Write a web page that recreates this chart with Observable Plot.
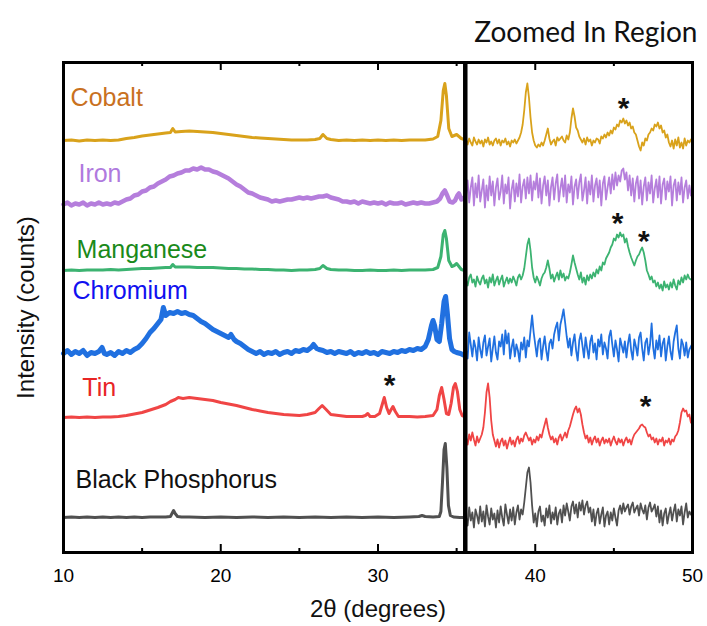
<!DOCTYPE html>
<html><head><meta charset="utf-8">
<script src="https://cdn.jsdelivr.net/npm/d3@7"></script>
<script src="https://cdn.jsdelivr.net/npm/@observablehq/plot@0.6"></script>
<style>body{margin:0;background:#fff;}</style>
</head><body><div id="chart"></div>
<script>
// ---- categories ----
const samples = ["Cobalt","Iron","Manganese","Chromium","Tin","Black Phosphorus"];
const lineColors = ["#D9A21B","#B57EDC","#3CB371","#2070E0","#F04545","#505050"];
const labelColors = ["#C9711F","#B07ADE","#1A8A1A","#1010F0","#E82525","#111111"];
const fullWidths = [3,4.5,3,5,3,3];
// vertical stacking offsets (a.u.)
const fullOffsets = [412,348,282,199,135,35];
const zoomOffsets = [410,347,270,200,110,35];
// label anchor: [2θ, lift above trace baseline]
const labelPos = [[10.45,43],[10.95,31],[10.83,21],[10.57,63],[11.2,30],[10.76,38]];
// asterisks: [2θ, intensity a.u.]
const asterisks = [[30.74,175],[45.62,452],[45.24,337],[46.9,319],[47.02,154]];
const xTickLabels = [10,20,30,40,50];
const majorTicks = [20,30,40];
const minorTicks = [15,25,35,45];
const panelSplit = 35.55;

// ---- full-range patterns (2θ, intensity above baseline) ----
const cobaltFull = [[10,0],[10.5,0.5],[11,-0.5],[11.5,0.5],[12,0],[12.5,0.5],[13,0],[13.5,0.5],[14,2],[14.5,3],[15,4.5],[15.5,5.5],[16,6.5],[16.5,7.5],[16.8,8],[16.95,12],[17.1,8.5],[17.5,9],[18,9.5],[18.5,9],[19,8.5],[19.5,8],[20,7],[20.5,6],[21,5],[21.5,4],[22,3],[22.5,2.5],[23,2],[23.5,1.5],[24,1],[24.5,0.5],[25,0.5],[25.5,0.5],[26,1],[26.3,2],[26.5,6],[26.75,2],[27,1],[27.5,0],[28,0.5],[28.5,0],[29,0.5],[29.5,0],[30,0.5],[30.5,0],[31,0.5],[31.5,0],[32,0.5],[32.5,0.5],[33,0.5],[33.5,1.5],[33.8,4],[34.0,20],[34.15,50],[34.25,57],[34.35,45],[34.5,12],[34.7,4],[34.85,5],[35.0,6],[35.15,4],[35.3,2],[35.5,1]];
const ironFull = [[10,0],[10.25,2],[10.5,-1],[10.75,1],[11,0],[11.25,2],[11.5,-1],[11.75,1],[12,0],[12.25,2],[12.5,0],[12.75,1],[13,0],[13.25,2],[13.5,1],[13.75,3],[14,5],[14.25,6],[14.5,9],[14.75,10],[15,13],[15.25,14],[15.5,17],[15.75,18],[16,21],[16.25,23],[16.5,25],[16.75,28],[17,29],[17.25,31],[17.5,32],[17.75,34],[18,34],[18.25,36],[18.5,35],[18.75,37],[19,35],[19.25,35],[19.5,33],[19.75,32],[20,30],[20.25,28],[20.5,26],[20.75,23],[21,20],[21.25,18],[21.5,15],[21.75,12],[22,11],[22.25,9],[22.5,7],[22.75,6],[23,5],[23.25,3],[23.5,4],[23.75,3],[24,4],[24.25,5],[24.5,5],[24.75,6],[25,7],[25.25,6],[25.5,7],[25.75,6],[26,7],[26.25,8],[26.5,8],[26.75,9],[27,7],[27.25,6],[27.5,5],[27.75,3],[28,3],[28.25,2],[28.5,3],[28.75,1],[29,3],[29.25,2],[29.5,1],[29.75,2],[30,1],[30.25,2],[30.5,0],[30.75,2],[31,1],[31.25,1],[31.5,2],[31.75,0],[32,1],[32.25,2],[32.5,1],[32.75,2],[33,1],[33.25,1],[33.5,2],[33.75,3],[33.95,6],[34.1,11],[34.25,14],[34.4,9],[34.55,3],[34.75,2],[34.9,4],[35.05,9],[35.15,11],[35.3,5],[35.5,7]];
const manganeseFull = [[10,0],[10.5,0.5],[11,0],[11.5,0.5],[12,0.5],[12.5,0.5],[13,1],[13.5,0.5],[14,1],[14.5,1.5],[15,2],[15.5,2],[16,2.5],[16.5,3],[16.8,3],[16.95,6],[17.1,3.5],[17.5,3.5],[18,3.5],[18.5,3],[19,3],[19.5,3],[20,2.5],[20.5,2],[21,2],[21.5,1.5],[22,1.5],[22.5,1],[23,1],[23.5,0.5],[24,0.5],[24.5,0],[25,0.5],[25.5,0.5],[26,1],[26.3,2],[26.5,5],[26.75,2],[27,1],[27.5,0.5],[28,0.5],[28.5,0],[29,0],[29.5,0.5],[30,0],[30.5,0],[31,0.5],[31.5,0],[32,0.5],[32.5,0.5],[33,0.5],[33.5,1],[33.8,3],[34.0,14],[34.15,36],[34.25,40],[34.35,32],[34.5,10],[34.7,4],[34.85,5],[35.0,7],[35.15,4],[35.3,1],[35.5,0]];
const chromiumFull = [[10,0],[10.25,3],[10.5,-1],[10.75,2],[11,0],[11.25,3],[11.5,-2],[11.75,1],[12,0],[12.25,2],[12.45,6],[12.6,0],[12.75,-1],[13,1],[13.25,-2],[13.5,2],[13.75,0],[14,3],[14.25,1],[14.5,4],[14.75,6],[15,10],[15.25,15],[15.5,21],[15.75,25],[16,30],[16.2,34],[16.35,46],[16.5,38],[16.75,41],[17,40],[17.25,42],[17.5,40],[17.75,41],[18,39],[18.25,38],[18.5,35],[18.75,32],[19,30],[19.25,27],[19.5,24],[19.75,22],[20,20],[20.25,18],[20.5,16],[20.65,19],[20.85,14],[21,12],[21.25,10],[21.5,7],[21.75,4],[22,2],[22.25,0],[22.5,2],[22.75,-1],[23,1],[23.25,0],[23.5,2],[23.75,-1],[24,1],[24.25,2],[24.5,0],[24.75,3],[25,2],[25.25,4],[25.5,3],[25.75,6],[25.9,9],[26.1,5],[26.25,4],[26.5,3],[26.75,1],[27,2],[27.25,0],[27.5,2],[27.75,1],[28,0],[28.25,2],[28.5,-1],[28.75,1],[29,0],[29.25,2],[29.5,0],[29.75,1],[30,-1],[30.25,2],[30.5,1],[30.75,0],[31,2],[31.25,1],[31.5,3],[31.75,2],[32,4],[32.25,3],[32.5,5],[32.75,4],[33,7],[33.2,14],[33.4,28],[33.5,33],[33.6,28],[33.75,14],[33.9,12],[34.05,30],[34.2,52],[34.3,57],[34.4,42],[34.55,15],[34.7,4],[34.85,2],[35,1],[35.25,0],[35.5,-2]];
const tinFull = [[10,0],[10.5,0.5],[11,0],[11.5,0.5],[12,0],[12.5,0.5],[13,0.5],[13.5,1],[14,2],[14.5,3.5],[15,5],[15.5,7.5],[16,10],[16.5,13],[16.8,16],[17.1,18],[17.3,20],[17.6,19],[18,20],[18.5,19],[19,18],[19.5,17],[20,15],[20.5,13.5],[21,12],[21.5,10],[22,8],[22.5,6.5],[23,5],[23.5,4],[24,3],[24.5,2.5],[25,2],[25.5,3],[26,5],[26.25,9],[26.45,12],[26.7,8],[27,3],[27.5,2],[28,1],[28.5,1],[29,1],[29.2,2],[29.35,4],[29.5,1],[29.8,1],[30.1,4],[30.25,12],[30.4,20],[30.55,10],[30.7,4],[30.8,7],[30.95,11],[31.1,6],[31.3,1],[31.7,1],[32,1],[32.5,0.5],[33,1],[33.5,2],[33.75,8],[33.9,22],[34.05,30],[34.2,18],[34.35,4],[34.5,3],[34.65,14],[34.8,30],[34.92,34],[35.05,26],[35.2,8],[35.35,2],[35.5,1]];
const phosphorusFull = [[10,0],[10.5,0.5],[11,0],[11.5,0.5],[12,0],[12.5,0.5],[13,0],[13.5,0.5],[14,0],[14.5,0.5],[15,0],[15.5,0.5],[16,0.5],[16.5,0.5],[16.8,1],[16.9,4],[17.0,7],[17.1,4],[17.25,1],[17.5,0.5],[18,0.5],[19,0],[20,0.5],[21,0],[22,0.5],[23,0],[24,0.5],[25,0],[26,0.5],[27,0],[28,0.5],[29,0],[30,0.5],[31,0],[32,0.5],[32.6,1],[32.8,2],[33,1],[33.5,0.5],[33.9,1],[34.0,6],[34.1,35],[34.2,68],[34.28,74],[34.38,50],[34.48,12],[34.6,2],[34.8,0.5],[35.2,0],[35.5,0]];

// ---- zoomed-in region, sampled every 0.1° from 35.6° to 50° ----
const zoomStart = 35.6, zoomStep = 0.1;
const cobaltZoom = [3,-2,4,0,-3,5,1,-2,3,-1, 2,-4,3,0,5,-2,1,-3,2,4, -1,3,-3,2,0,4,-2,1,-4,2, 0,3,-1,2,5,10,18,32,50,59, 45,25,10,2,-3,-5,-2,-4,0,-3, 2,8,14,4,-2,1,3,-3,5,2, 4,6,2,0,7,3,10,24,34,26, 15,12,6,3,0,4,-2,5,1,3, -3,2,0,4,3,-1,6,4,8,5, 10,7,12,9,15,13,18,16,22,20, 24,19,22,17,20,14,16,10,8,2, -4,-8,0,-3,4,2,8,10,14,12, 18,16,20,14,17,10,12,5,8,0, -4,2,-6,3,-3,5,-5,0,-6,4, -3,2,0,3,1];
const ironZoom = [10,25,3,18,28,0,22,8,30,4, 15,26,-2,20,5,29,10,24,0,18, 27,6,14,30,2,21,12,28,-3,16, 25,4,22,9,31,3,19,26,7,28, 12,30,5,24,16,32,8,27,2,20, 29,10,25,0,18,28,6,22,31,4, 17,27,9,30,3,21,13,29,1,19, 26,7,23,31,5,15,28,2,24,11, 30,4,20,27,8,25,0,22,29,6, 18,28,12,31,16,33,20,30,24,35, 37,26,33,15,30,10,27,4,22,29, 7,25,1,19,28,5,23,12,30,3, 17,26,8,29,2,21,27,6,24,14, 29,0,20,26,5,23,11,28,3,18, 25,7,20,10,12];
const manganeseZoom = [2,-3,5,8,0,3,-4,6,1,-2, 4,7,-1,3,-5,5,0,8,-3,2, 6,-2,3,7,-4,1,5,-1,4,0, 6,2,-3,5,8,3,7,14,26,38, 44,32,15,5,0,6,2,-3,4,8, 10,15,22,14,4,8,1,6,10,3, 12,5,9,2,6,4,10,18,27,20, 14,8,3,10,0,5,-2,7,2,8, 4,10,6,13,9,16,12,20,18,24, 27,30,35,38,44,42,48,45,50,46, 48,40,44,36,30,25,21,17,22,26, 28,32,35,30,22,12,8,3,6,0, 2,-4,0,-6,-2,-8,1,-5,-2,-7, 0,-5,3,-3,-7,2,-2,5,0,7, 3,8,4,3,3];
const chromiumZoom = [2,-6,20,8,-4,12,5,-8,15,3, -5,10,17,-3,6,14,-9,4,16,0, -7,11,6,18,-2,22,9,19,-6,5, 13,-4,8,2,-9,10,3,15,-5,12, 6,22,37,20,8,-4,11,14,-7,6, 16,2,-8,9,13,4,18,25,30,12, 28,35,43,30,16,5,14,-3,10,18, 2,-8,12,19,7,-5,15,4,-6,11, 17,0,9,-7,13,6,18,-2,10,4, -6,16,22,8,-4,12,3,-9,14,7, 0,11,-5,9,18,2,-7,13,6,-3, 15,20,4,-8,10,14,-2,8,29,5, -6,12,3,17,-4,9,14,-8,6,16, 1,-7,11,20,27,4,-6,13,8,-3, 10,-5,3,6,9];
const tinZoom = [5,-2,8,2,10,3,-3,6,0,4, 8,15,30,50,59,45,22,8,2,-4, 3,-5,1,4,-3,2,-6,0,5,-2, 2,-4,3,6,-1,4,1,7,10,6, 2,5,-2,3,0,6,2,8,5,12, 18,24,15,8,3,6,0,4,-2,5, 8,2,6,10,5,12,16,22,28,33, 36,30,34,28,18,10,4,7,0,5, -2,3,6,0,4,-3,2,5,-1,3, 0,4,-3,2,6,1,-2,4,0,3, -3,2,5,0,3,-2,4,8,10,12, 14,17,18,16,15,10,6,8,3,5, 0,4,-2,3,1,5,-3,2,0,4, -2,3,1,6,8,12,20,30,34,31, 32,26,28,20,18];
const phosphorusZoom = [0,-8,10,-3,5,-10,8,2,-6,11, -4,6,-9,12,1,-7,9,-2,4,-10, 7,-5,11,0,-8,13,3,-6,8,-3, 10,-7,5,12,-2,8,3,15,30,45, 50,35,12,-5,4,-9,6,11,-4,2, -8,9,0,12,-6,5,-2,10,-7,4, 8,-5,12,2,14,6,-3,11,16,4, 13,0,15,7,17,3,12,16,5,10, -4,8,-8,4,9,-6,3,10,-9,2, 6,-7,5,-3,9,0,-8,7,12,4, 14,6,10,13,3,11,15,5,9,12, 2,14,8,4,12,-2,10,15,6,9, 13,1,11,-5,7,-8,4,9,-6,3, 10,-3,6,13,-4,8,2,11,-7,5, 14,0,6,3,4];

const fullData = [cobaltFull, ironFull, manganeseFull, chromiumFull, tinFull, phosphorusFull];
const zoomData = [cobaltZoom, ironZoom, manganeseZoom, chromiumZoom, tinZoom, phosphorusZoom];

const font = "'Liberation Sans', Arial, sans-serif";
const marks = [];

samples.forEach((s, i) => {
  const rows = fullData[i].map(([x, h]) => ({x, y: h + fullOffsets[i]}));
  marks.push(Plot.line(rows, {x: "x", y: "y", stroke: lineColors[i], strokeWidth: fullWidths[i], strokeLinejoin: "round"}));
});
samples.forEach((s, i) => {
  const rows = zoomData[i].map((h, j) => ({x: +(zoomStart + j * zoomStep).toFixed(2), y: h + zoomOffsets[i]}));
  marks.push(Plot.line(rows, {x: "x", y: "y", stroke: lineColors[i], strokeWidth: 1.8, strokeLinejoin: "round"}));
});

const labels = samples.map((s, i) => ({name: s, x: labelPos[i][0], y: fullOffsets[i] + labelPos[i][1], color: labelColors[i]}));
marks.push(Plot.text(labels, {x: "x", y: "y", text: "name", fill: "color", textAnchor: "start", fontSize: 25, fontFamily: font}));
marks.push(Plot.text(asterisks, {x: d => d[0], y: d => d[1], text: () => "*", fill: "#111", fontSize: 30, fontWeight: "bold", fontFamily: font, dy: 8}));

marks.push(Plot.frame({stroke: "#000", strokeWidth: 3}));
marks.push(Plot.ruleX([panelSplit], {stroke: "#000", strokeWidth: 4.5}));
marks.push(Plot.tickX(majorTicks, {x: d => d, insetTop: 482, strokeWidth: 2}));
marks.push(Plot.tickX(minorTicks, {x: d => d, insetTop: 486, strokeWidth: 2}));
marks.push(Plot.tickX(majorTicks, {x: d => d, insetBottom: 482, strokeWidth: 2}));
marks.push(Plot.tickX(minorTicks, {x: d => d, insetBottom: 486, strokeWidth: 2}));
marks.push(Plot.axisX(xTickLabels, {anchor: "bottom", tickSize: 0, tickPadding: 16, fontSize: 19, fontFamily: font, label: null}));
marks.push(Plot.text(["2θ (degrees)"], {frameAnchor: "bottom", dy: 64, textAnchor: "middle", fontSize: 24, fontFamily: font, fill: "#111"}));
marks.push(Plot.text(["Intensity (counts)"], {frameAnchor: "left", dx: -37, textAnchor: "middle", rotate: -90, fontSize: 24, fontFamily: font, fill: "#111"}));
marks.push(Plot.text(["Zoomed In Region"], {frameAnchor: "top-right", dy: -40, dx: 5, textAnchor: "end", fontSize: 28, fontFamily: "Lato, 'Open Sans', sans-serif", fill: "#111"}));

const chart = Plot.plot({
  width: 707, height: 626,
  marginLeft: 63, marginRight: 15, marginTop: 62, marginBottom: 74,
  x: {domain: [10, 50]},
  y: {domain: [0, 490], axis: null},
  style: {background: "#fff", overflow: "visible", fontFamily: font},
  marks
});
document.getElementById("chart").appendChild(chart);
</script>
</body></html>
